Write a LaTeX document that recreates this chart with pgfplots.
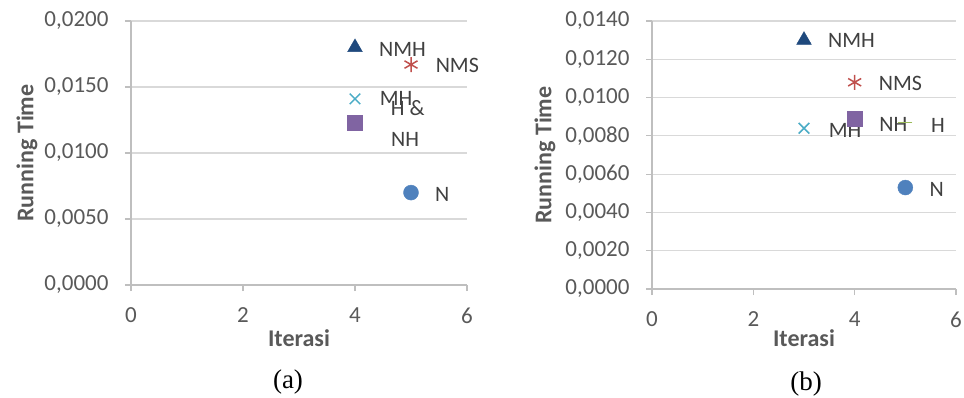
\documentclass[border=0pt]{standalone}
\usepackage{pgfplots}
\pgfplotsset{compat=1.18}
\usepackage{fontspec}
\setmainfont{Carlito}
\newfontfamily\timesfont{Liberation Serif}
\definecolor{gridc}{HTML}{D9D9D9}
\definecolor{axc}{HTML}{BFBFBF}
\definecolor{txt}{HTML}{595959}
\definecolor{lbl}{HTML}{404040}
\definecolor{cNMH}{HTML}{1F497D}
\definecolor{cNMS}{HTML}{C0504D}
\definecolor{cMH}{HTML}{4BACC6}
\definecolor{cNH}{HTML}{8064A2}
\definecolor{cH}{HTML}{9BBB59}
\definecolor{cN}{HTML}{4F81BD}
\pgfplotsset{
  myax/.style={
    scale only axis, axis lines*=left,
    axis line style={axc, line width=1.2pt},
    xmin=0, xmax=6, xtick={0,2,4,6}, ymin=0,
    ymajorgrids, grid style={gridc, line width=1.2pt},
    tick style={axc, line width=1.2pt}, tick align=outside, major tick length=6pt,
    ticklabel style={font=\fontsize{23}{25}\selectfont, text=txt},
    /pgf/number format/assume math mode=true,
    scaled y ticks=false,
    yticklabel style={xshift=-13pt, /pgf/number format/.cd, fixed, fixed zerofill, precision=4, use comma},
    xticklabel style={yshift=-13pt},
    xlabel={Iterasi}, ylabel={Running Time},
    clip=false,
  },
  lab/.style n args={3}{nodes near coords={#1},
    every node near coord/.append style={anchor=west, inner sep=0pt, xshift=#2, yshift=#3,
      font=\fontsize{22}{24}\selectfont, text=lbl}},
  mNMH/.style={only marks, mark=triangle*, mark size=8.5pt, color=cNMH},
  mNMS/.style={only marks, mark=asterisk, mark size=7.5pt, color=cNMS, mark options={line width=1.5pt}},
  mMH/.style={only marks, mark=x, mark size=7.5pt, color=cMH, mark options={line width=1.5pt}},
  mNH/.style={only marks, mark=square*, mark size=7.5pt, color=cNH},
  mH/.style={only marks, mark=-, mark size=7pt, color=cH, mark options={line width=1.8pt}},
  mN/.style={only marks, mark=*, mark size=7.5pt, color=cN},
}
\begin{document}
\begin{tikzpicture}[x=1pt,y=1pt]
\useasboundingbox (0,0) rectangle (964,397);
% ---------- (a)
\begin{axis}[myax, at={(131pt,112pt)}, anchor=south west, width=336pt, height=264pt,
  ymax=0.02, ytick={0,0.005,0.01,0.015,0.02},
  every axis y label/.style={at={(axis description cs:0,0.5)}, xshift=-104pt, rotate=90, anchor=center,
    font=\bfseries\fontsize{24}{26}\selectfont, text=txt},
  every axis x label/.style={at={(axis description cs:0.5,0)}, yshift=-53pt, anchor=center,
    font=\bfseries\fontsize{24}{26}\selectfont, text=txt}]
\addplot[mH, lab={H \&}{35pt}{17pt}] coordinates {(4,0.0121)};
\addplot[mNH, lab={NH}{36pt}{-16.5pt}] coordinates {(4,0.0123)};
\addplot[mMH, lab={MH}{24pt}{0pt}] coordinates {(4,0.0141)};
\addplot[mNMH, lab={NMH}{24pt}{-2pt}] coordinates {(4,0.0180)};
\addplot[mNMS, lab={NMS}{24pt}{-1pt}] coordinates {(5,0.0167)};
\addplot[mN, lab={N}{24pt}{-2pt}] coordinates {(5,0.0070)};
\end{axis}
% ---------- (b)
\begin{axis}[myax, at={(652pt,108pt)}, anchor=south west, width=304pt, height=268pt,
  ymax=0.014, ytick={0,0.002,0.004,0.006,0.008,0.01,0.012,0.014},
  every axis y label/.style={at={(axis description cs:0,0.5)}, xshift=-107pt, rotate=90, anchor=center,
    font=\bfseries\fontsize{24}{26}\selectfont, text=txt},
  every axis x label/.style={at={(axis description cs:0.5,0)}, yshift=-49pt, anchor=center,
    font=\bfseries\fontsize{24}{26}\selectfont, text=txt}]
\addplot[mMH, lab={MH}{24pt}{-2pt}] coordinates {(3,0.0084)};
\addplot[mNMH, lab={NMH}{24pt}{0pt}] coordinates {(3,0.0130)};
\addplot[mNMS, lab={NMS}{23.5pt}{-1pt}] coordinates {(4,0.0108)};
\addplot[mNH, lab={NH}{24.5pt}{-6pt}] coordinates {(4,0.0089)};
\addplot[mH, lab={H}{25pt}{-3pt}] coordinates {(5,0.0087)};
\addplot[mN, lab={N}{24pt}{-2pt}] coordinates {(5,0.0053)};
\end{axis}
\node[font=\timesfont\fontsize{27}{30}\selectfont, text=black] at (288,15) {(a)};
\node[font=\timesfont\fontsize{27}{30}\selectfont, text=black] at (806,13) {(b)};
\end{tikzpicture}
\end{document}
